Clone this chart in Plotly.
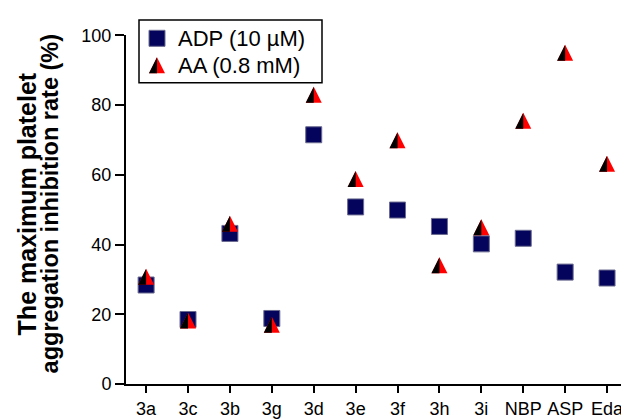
import plotly.graph_objects as go

# ---------------- data ----------------
categories = ["3a", "3c", "3b", "3g", "3d", "3e", "3f", "3h", "3i", "NBP", "ASP", "Eda"]
adp_values = [28.4, 18.5, 43.2, 18.8, 71.5, 50.8, 49.9, 45.2, 40.2, 41.8, 32.1, 30.4]
aa_values = [30.8, 18.2, 46.0, 17.0, 83.0, 58.8, 69.9, 34.1, 45.0, 75.5, 95.0, 63.2]
y_tick_values = [0, 20, 40, 60, 80, 100]
series_names = ["ADP (10 µM)", "AA (0.8 mM)"]
y_title_lines = ["The maximum platelet", "aggregation inhibition rate (%)"]

# ---------------- layout geometry ----------------
# the page body adds an 8 px offset; the figure is sized so that it fills the window
OFF = 8
W, H = 629 - OFF, 420 - OFF
PLOT_LEFT, PLOT_RIGHT = 126 - OFF, 628 - OFF      # figure pixels
PLOT_TOP, PLOT_BOTTOM = 27 - OFF, 388 - OFF
MT = 2
ML, MR, MB = PLOT_LEFT, W - PLOT_RIGHT, H - PLOT_BOTTOM
PW = W - ML - MR
PH = H - MT - MB
YDOM_TOP = (PLOT_BOTTOM - PLOT_TOP) / PH
XMIN, XMAX = -0.48, 11.5

FONT = "Liberation Sans, Arial, Helvetica, sans-serif"
NAVY = "#04045c"
RED = "#ff0000"
BLACK = "#000000"
SQ_SIZE = 16
TRI_SIZE = 16


def px2x(px):
    """window pixel -> paper x"""
    return (px - OFF - ML) / PW


def py2y(py):
    """window pixel -> paper y"""
    return (H - MB - (py - OFF)) / PH


def tri_marker(color):
    # isosceles triangle (arrow head) centred on the data point
    return dict(symbol="arrow-down", angle=180, standoff=TRI_SIZE / 2,
                size=TRI_SIZE, color=color, line=dict(width=0))


sq_marker = dict(symbol="square", size=SQ_SIZE, color=NAVY,
                 line=dict(width=1, color="#6b6b90"))

x_idx = list(range(len(categories)))

fig = go.Figure()

# ADP squares
fig.add_trace(go.Scatter(x=x_idx, y=adp_values, mode="markers", name=series_names[0],
                         marker=sq_marker, showlegend=False))
# AA triangles (red, full)
fig.add_trace(go.Scatter(x=x_idx, y=aa_values, mode="markers", name=series_names[1],
                         marker=tri_marker(RED), showlegend=False))

layout_axes = {}
# black left halves: each drawn in a subplot clipped at the point's centre
for i in x_idx:
    k = i + 2
    frac = (i - XMIN) / (XMAX - XMIN)
    layout_axes[f"xaxis{k}"] = dict(domain=[0, frac], range=[XMIN, i], anchor="y",
                                    visible=False, fixedrange=True)
    fig.add_trace(go.Scatter(x=[i], y=[aa_values[i]], mode="markers",
                             xaxis=f"x{k}", yaxis="y", marker=tri_marker(BLACK),
                             showlegend=False, hoverinfo="skip", cliponaxis=True))

# ---------------- manual legend (window pixels) ----------------
LEG_BOX = (139, 11, 322, 76)
LEG_SYM_X = 157
LEG_ROWS = [30, 58]
LEG_TEXT_X = 176
kl = len(categories) + 2
# pixel-unit helper axes spanning the whole plot region
layout_axes[f"xaxis{kl}"] = dict(domain=[0, 1], range=[ML + OFF, W - MR + OFF], anchor="y2",
                                 visible=False, fixedrange=True)
layout_axes["yaxis2"] = dict(domain=[0, 1], range=[H - MB + OFF, MT + OFF], anchor=f"x{kl}",
                             visible=False, fixedrange=True)
layout_axes[f"xaxis{kl + 1}"] = dict(domain=[0, px2x(LEG_SYM_X)], range=[ML + OFF, LEG_SYM_X],
                                     anchor="y2", visible=False, fixedrange=True)
fig.add_trace(go.Scatter(x=[LEG_SYM_X], y=[LEG_ROWS[0]], mode="markers", xaxis=f"x{kl}",
                         yaxis="y2", marker=sq_marker, showlegend=False, hoverinfo="skip",
                         cliponaxis=False))
fig.add_trace(go.Scatter(x=[LEG_SYM_X], y=[LEG_ROWS[1]], mode="markers", xaxis=f"x{kl}",
                         yaxis="y2", marker=tri_marker(RED), showlegend=False,
                         hoverinfo="skip", cliponaxis=False))
fig.add_trace(go.Scatter(x=[LEG_SYM_X], y=[LEG_ROWS[1]], mode="markers", xaxis=f"x{kl + 1}",
                         yaxis="y2", marker=tri_marker(BLACK), showlegend=False,
                         hoverinfo="skip", cliponaxis=True))

shapes = [dict(type="rect", xref="paper", yref="paper",
               x0=px2x(LEG_BOX[0]), x1=px2x(LEG_BOX[2]),
               y0=py2y(LEG_BOX[3]), y1=py2y(LEG_BOX[1]),
               line=dict(color=BLACK, width=1.5), fillcolor="rgba(0,0,0,0)", layer="below")]

annotations = []
for name, row in zip(series_names, LEG_ROWS):
    annotations.append(dict(text=name, xref="paper", yref="paper", x=px2x(LEG_TEXT_X),
                            y=py2y(row), xanchor="left", yanchor="middle", showarrow=False,
                            font=dict(family=FONT, size=22, color=BLACK)))

# y-axis title (two lines)
for line, cx, fs in zip(y_title_lines, [27, 50], [25, 23.5]):
    annotations.append(dict(text=line, xref="paper", yref="paper", x=px2x(cx), y=py2y(202),
                            xanchor="center", yanchor="middle", textangle=-90,
                            showarrow=False,
                            font=dict(family=FONT, size=fs, color=BLACK, weight="bold")))

fig.update_layout(
    width=W, height=H,
    margin=dict(l=ML, r=MR, t=MT, b=MB, pad=0),
    paper_bgcolor="white", plot_bgcolor="rgba(0,0,0,0)",
    font=dict(family=FONT, color=BLACK),
    showlegend=False,
    xaxis=dict(domain=[0, 1], range=[XMIN, XMAX], tickmode="array", tickvals=x_idx,
               ticktext=categories, ticks="outside", ticklen=7, tickwidth=2,
               tickcolor=BLACK, showline=True, linecolor=BLACK, linewidth=2,
               showgrid=False, zeroline=False, tickfont=dict(size=18, family=FONT),
               fixedrange=True),
    yaxis=dict(domain=[0, YDOM_TOP], range=[0, 100], tickmode="array",
               tickvals=y_tick_values, ticks="outside", ticklen=9, tickwidth=2,
               tickcolor=BLACK, showline=True, linecolor=BLACK, linewidth=2,
               showgrid=False, zeroline=False, tickfont=dict(size=18, family=FONT),
               anchor="x", fixedrange=True),
    shapes=shapes,
    annotations=annotations,
    **layout_axes,
)

fig.write_html("out.html")
